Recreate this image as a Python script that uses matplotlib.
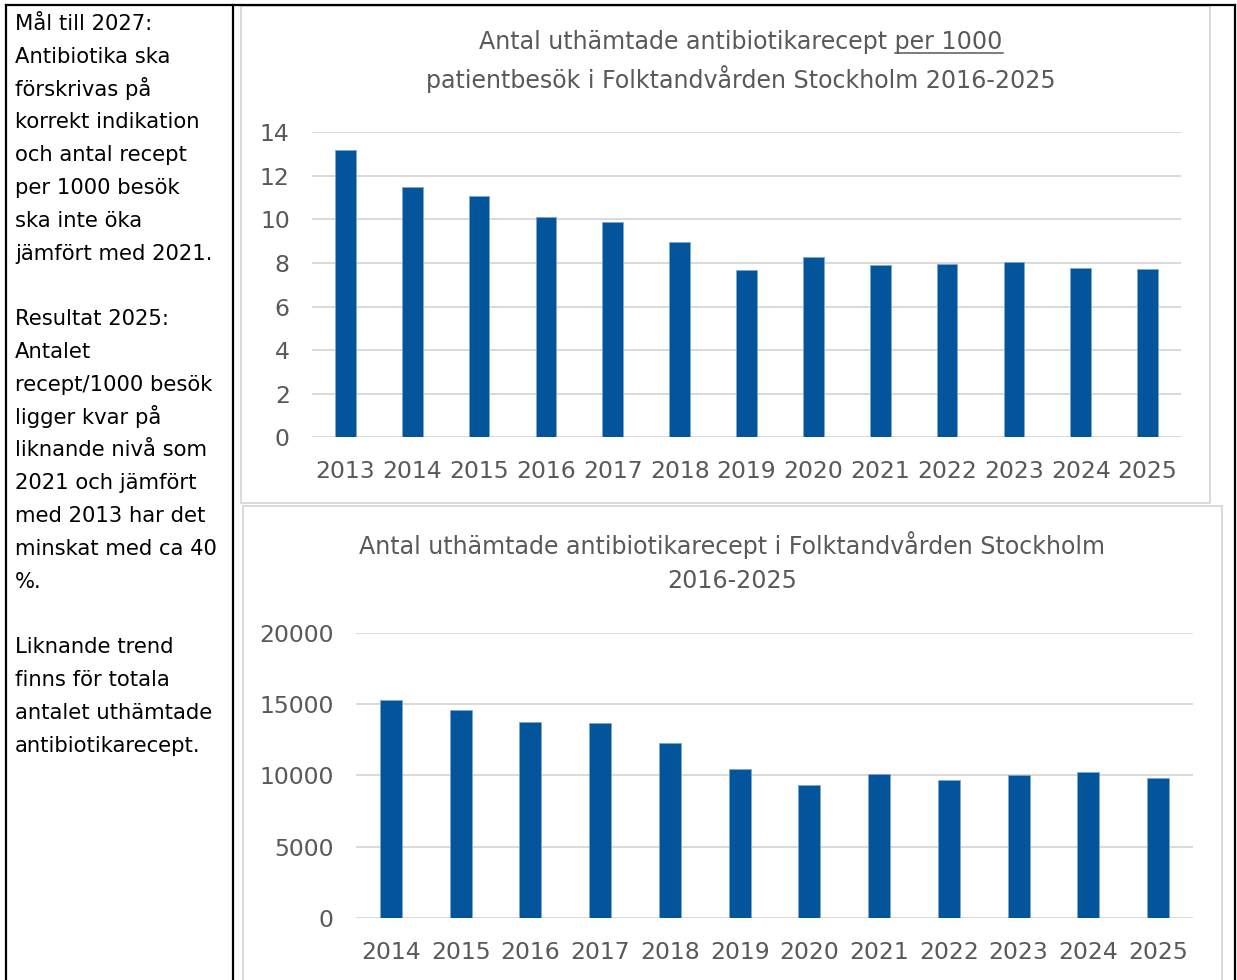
import matplotlib
matplotlib.use("Agg")
import matplotlib.pyplot as plt
from matplotlib.patches import Rectangle
from matplotlib.lines import Line2D

# data
years_rate = ["2013", "2014", "2015", "2016", "2017", "2018", "2019",
              "2020", "2021", "2022", "2023", "2024", "2025"]
rate_per_1000 = [13.2, 11.47, 11.07, 10.09, 9.88, 8.97, 7.67,
                 8.28, 7.9, 7.96, 8.03, 7.77, 7.72]

years_count = ["2014", "2015", "2016", "2017", "2018", "2019",
               "2020", "2021", "2022", "2023", "2024", "2025"]
prescriptions = [15270, 14560, 13740, 13670, 12270, 10460,
                 9300, 10110, 9690, 10040, 10230, 9810]

rate_ticks = [0, 2, 4, 6, 8, 10, 12, 14]
count_ticks = [0, 5000, 10000, 15000, 20000]

left_lines = [
    "Mål till 2027:", "Antibiotika ska", "förskrivas på", "korrekt indikation",
    "och antal recept", "per 1000 besök", "ska inte öka", "jämfört med 2021.",
    "", "Resultat 2025:", "Antalet", "recept/1000 besök", "ligger kvar på",
    "liknande nivå som", "2021 och jämfört", "med 2013 har det",
    "minskat med ca 40", "%.", "", "Liknande trend", "finns för totala",
    "antalet uthämtade", "antibiotikarecept.",
]

W, H = 1237, 980
BAR = "#02549b"
GRID = "#d9d9d9"
TXT = "#595959"
FS = 16.9

plt.rcParams["font.family"] = ["DejaVu Sans"]
fig = plt.figure(figsize=(W / 100, H / 100), dpi=100)


def fx(px):
    return px / W


def fy(py):
    return 1 - py / H


# table frame
for x0, y0, x1, y1 in [(6, 5, 1235, 5), (6, 5, 6, 990), (233, 5, 233, 990), (1235, 5, 1235, 990)]:
    fig.add_artist(Line2D([fx(x0), fx(x1)], [fy(y0), fy(y1)], color="black", lw=1.6))

# chart panels
fig.add_artist(Rectangle((fx(241), fy(503)), fx(1210 - 241), (503 - 6) / H,
                         fill=False, edgecolor=GRID, lw=1.4))
fig.add_artist(Rectangle((fx(243), fy(1000)), fx(1222 - 243), (1000 - 506) / H,
                         fill=False, edgecolor=GRID, lw=1.4))

# left column text
for i, line in enumerate(left_lines):
    fig.text(fx(15), fy(30 + i * 32.8), line, fontsize=15.2, color="black",
             ha="left", va="baseline")


def style(ax, ticks, labels):
    ax.set_yticks(ticks)
    ax.set_xticks(range(len(labels)))
    ax.set_xticklabels(labels)
    ax.tick_params(length=0, labelsize=FS, colors=TXT)
    ax.tick_params(axis="y", pad=16)
    ax.tick_params(axis="x", pad=16.5)
    for s in ax.spines.values():
        s.set_visible(False)
    ax.grid(axis="y", color=GRID, lw=1.4)
    ax.set_axisbelow(True)


# top chart
ax1 = fig.add_axes([fx(312), fy(437.3), fx(1181 - 312), (437.3 - 132.3) / H])
ax1.bar(range(len(years_rate)), rate_per_1000, width=0.31, color=BAR,
        edgecolor="#7fa6cc", lw=0.6)
ax1.set_xlim(-0.5, len(years_rate) - 0.5)
ax1.set_ylim(0, 14)
style(ax1, rate_ticks, years_rate)

# bottom chart
ax2 = fig.add_axes([fx(356), fy(917.7), fx(1193 - 356), (917.7 - 633) / H])
ax2.bar(range(len(years_count)), prescriptions, width=0.315, color=BAR,
        edgecolor="#7fa6cc", lw=0.6)
ax2.set_xlim(-0.5, len(years_count) - 0.5)
ax2.set_ylim(0, 20000)
style(ax2, count_ticks, years_count)

# titles
TFS = 17.1
cx = fx(741)
t1 = fig.text(cx, fy(42), "Antal uthämtade antibiotikarecept per 1000",
              fontsize=TFS, color=TXT, ha="center", va="center")
fig.text(cx, fy(79), "patientbesök i Folktandvården Stockholm 2016-2025",
         fontsize=TFS, color=TXT, ha="center", va="center")
fig.text(fx(732), fy(545), "Antal uthämtade antibiotikarecept i Folktandvården Stockholm",
         fontsize=TFS, color=TXT, ha="center", va="center")
fig.text(fx(732), fy(581), "2016-2025",
         fontsize=TFS, color=TXT, ha="center", va="center")

# underline "per 1000"
fig.canvas.draw()
r = fig.canvas.get_renderer()
bb = t1.get_window_extent(r)
probe = fig.text(0, 0, "per 1000", fontsize=TFS)
pw = probe.get_window_extent(r).width
probe.remove()
uy = bb.y0 + 1
fig.add_artist(Line2D([(bb.x1 - pw) / W, bb.x1 / W], [uy / H, uy / H],
                      color=TXT, lw=1.1))

fig.savefig("out.png", dpi=100)
